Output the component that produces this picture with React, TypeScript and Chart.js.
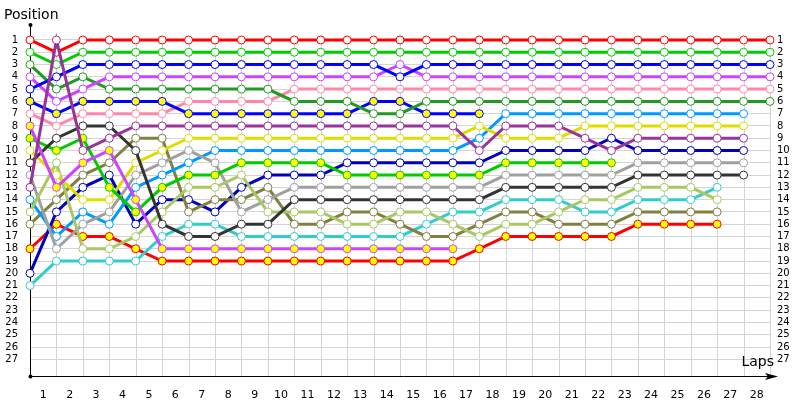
import React, { useEffect, useRef } from 'react';
import { Chart, registerables } from 'chart.js';

Chart.register(...registerables);

// laps 0 (start) .. 28, position ticks 1 .. 27
const laps = [0, 1, 2, 3, 4, 5, 6, 7, 8, 9, 10, 11, 12, 13, 14, 15, 16, 17, 18, 19, 20, 21, 22, 23, 24, 25, 26, 27, 28];
const lapLabels = ['1', '2', '3', '4', '5', '6', '7', '8', '9', '10', '11', '12', '13', '14', '15', '16', '17', '18', '19', '20', '21', '22', '23', '24', '25', '26', '27', '28'];
const positionTicks = [1, 2, 3, 4, 5, 6, 7, 8, 9, 10, 11, 12, 13, 14, 15, 16, 17, 18, 19, 20, 21, 22, 23, 24, 25, 26, 27];

// position of each driver at the end of each lap (index = lap)
const red = [1, 2, 1, 1, 1, 1, 1, 1, 1, 1, 1, 1, 1, 1, 1, 1, 1, 1, 1, 1, 1, 1, 1, 1, 1, 1, 1, 1, 1];
const green = [2, 3, 2, 2, 2, 2, 2, 2, 2, 2, 2, 2, 2, 2, 2, 2, 2, 2, 2, 2, 2, 2, 2, 2, 2, 2, 2, 2, 2];
const blue = [5, 4, 3, 3, 3, 3, 3, 3, 3, 3, 3, 3, 3, 3, 4, 3, 3, 3, 3, 3, 3, 3, 3, 3, 3, 3, 3, 3, 3];
const violet = [4, 6, 5, 4, 4, 4, 4, 4, 4, 4, 4, 4, 4, 4, 3, 4, 4, 4, 4, 4, 4, 4, 4, 4, 4, 4, 4, 4, 4];
const pink = [7, 8, 7, 7, 7, 7, 6, 6, 6, 6, 5, 5, 5, 5, 5, 5, 5, 5, 5, 5, 5, 5, 5, 5, 5, 5, 5, 5, 5];
const darkGreen = [3, 5, 4, 5, 5, 5, 5, 5, 5, 5, 6, 6, 6, 7, 7, 6, 6, 6, 6, 6, 6, 6, 6, 6, 6, 6, 6, 6, 6];
const blueYellow = [6, 7, 6, 6, 6, 6, 7, 7, 7, 7, 7, 7, 7, 6, 6, 7, 7, 7];
const purple = [13, 1, 10, 9, 8, 8, 8, 8, 8, 8, 8, 8, 8, 8, 8, 8, 8, 10, 8, 8, 8, 9, 10, 9, 9, 9, 9, 9];
const lightBlue = [14, 17, 15, 16, 13, 12, 11, 10, 10, 10, 10, 10, 10, 10, 10, 10, 10, 9, 7, 7, 7, 7, 7, 7, 7, 7, 7, 7];
const yellow = [10, 12, 14, 14, 11, 10, 9, 9, 9, 9, 9, 9, 9, 9, 9, 9, 9, 8, 9, 9, 9, 8, 8, 8, 8, 8, 8, 8];
const navy = [20, 15, 13, 12, 16, 14, 14, 15, 13, 12, 12, 12, 11, 11, 11, 11, 11, 11, 10, 10, 10, 10, 9, 10, 10, 10, 10, 10];
const greenYellow = [9, 10, 9, 13, 15, 13, 12, 12, 11, 11, 11, 11, 12, 12, 12, 12, 12, 12, 11, 11, 11, 11, 11];
const gray = [12, 18, 16, 15, 12, 11, 10, 11, 15, 14, 13, 13, 13, 13, 13, 13, 13, 13, 12, 12, 12, 12, 12, 11, 11, 11, 11, 11];
const black = [11, 9, 8, 8, 10, 16, 17, 17, 16, 16, 14, 14, 14, 14, 14, 14, 14, 14, 13, 13, 13, 13, 13, 12, 12, 12, 12, 12];
const cyan = [21, 19, 19, 19, 19, 17, 16, 16, 17, 17, 17, 17, 17, 17, 17, 16, 15, 15, 14, 14, 14, 15, 15, 14, 14, 14, 13];
const lightGreen = [15, 11, 18, 18, 17, 15, 13, 13, 12, 15, 15, 15, 16, 16, 15, 15, 16, 17, 16, 16, 15, 14, 14, 13, 13, 13, 14];
const olive = [16, 14, 12, 11, 9, 9, 15, 14, 14, 13, 16, 16, 15, 15, 16, 17, 17, 16, 15, 15, 16, 16, 16, 15, 15, 15, 15];
const violetYellow = [8, 13, 11, 10, 14, 18, 18, 18, 18, 18, 18, 18, 18, 18, 18, 18, 18];
const redYellow = [18, 16, 17, 17, 18, 19, 19, 19, 19, 19, 19, 19, 19, 19, 19, 19, 19, 18, 17, 17, 17, 17, 17, 16, 16, 16, 16];

const FONT = '"DejaVu Sans", Verdana, sans-serif';
const WHITE = '#ffffff';
const GOLD = '#ffff00';

// [name, positions, line colour, marker fill] - first entry is drawn on top
const drivers: [string, number[], string, string][] = [
  ['purple', purple, '#993399', WHITE],
  ['violetYellow', violetYellow, '#cc44ff', GOLD],
  ['black', black, '#333333', WHITE],
  ['greenYellow', greenYellow, '#00cc00', GOLD],
  ['yellow', yellow, '#dddd00', WHITE],
  ['lightGreen', lightGreen, '#a8c864', WHITE],
  ['gray', gray, '#a0a0a0', WHITE],
  ['lightBlue', lightBlue, '#0099ff', WHITE],
  ['olive', olive, '#808040', WHITE],
  ['navy', navy, '#0000bb', WHITE],
  ['cyan', cyan, '#33cccc', WHITE],
  ['redYellow', redYellow, '#ff0000', GOLD],
  ['red', red, '#ff0000', WHITE],
  ['green', green, '#00cc00', WHITE],
  ['blue', blue, '#0000ff', WHITE],
  ['violet', violet, '#cc44ff', WHITE],
  ['darkGreen', darkGreen, '#229922', WHITE],
  ['blueYellow', blueYellow, '#0000ff', GOLD],
  ['pink', pink, '#ff88aa', WHITE],
];

const decorPlugin = {
  id: 'decor',
  beforeDatasetsDraw(chart: any) {
    const { ctx, chartArea, scales } = chart;
    const x = scales.x;
    const y = scales.y;
    ctx.save();
    // vertical grid lines, from position 1 down to the axis
    ctx.strokeStyle = '#d4d4d4';
    ctx.lineWidth = 1;
    const top = y.getPixelForValue(1);
    laps.forEach((l) => {
      const px = Math.round(x.getPixelForValue(l)) + 0.5;
      ctx.beginPath();
      ctx.moveTo(px, top);
      ctx.lineTo(px, chartArea.bottom);
      ctx.stroke();
    });
    // axes
    const x0 = Math.round(x.getPixelForValue(0)) + 0.5;
    const yb = Math.round(chartArea.bottom) + 0.5;
    ctx.strokeStyle = '#000';
    ctx.fillStyle = '#000';
    ctx.beginPath();
    ctx.moveTo(x0, 25);
    ctx.lineTo(x0, yb);
    ctx.lineTo(chartArea.right + 6, yb);
    ctx.stroke();
    ctx.beginPath();
    ctx.moveTo(chartArea.right + 8, yb);
    ctx.lineTo(chartArea.right - 5, yb - 3.5);
    ctx.lineTo(chartArea.right - 2, yb);
    ctx.lineTo(chartArea.right - 5, yb + 3.5);
    ctx.closePath();
    ctx.fill();
    ctx.beginPath();
    ctx.arc(x0, 25, 2, 0, Math.PI * 2);
    ctx.fill();
    ctx.beginPath();
    ctx.arc(x0, yb, 2, 0, Math.PI * 2);
    ctx.fill();
    ctx.restore();
  },
  afterDraw(chart: any) {
    const { ctx, chartArea } = chart;
    ctx.save();
    ctx.fillStyle = '#000';
    ctx.font = `14px ${FONT}`;
    ctx.textBaseline = 'alphabetic';
    ctx.textAlign = 'left';
    ctx.fillText('Position', 4, 19);
    ctx.textAlign = 'right';
    ctx.fillText('Laps', chartArea.right + 4, chartArea.bottom - 10);
    ctx.restore();
  },
};

const LapChart: React.FC = () => {
  const canvasRef = useRef<HTMLCanvasElement>(null);
  const chartRef = useRef<Chart | null>(null);

  useEffect(() => {
    document.body.style.margin = '0';
    if (!canvasRef.current) return;
    if (chartRef.current) chartRef.current.destroy();

    const tickFont = { family: FONT, size: 10 };

    chartRef.current = new Chart(canvasRef.current, {
      type: 'line',
      data: {
        datasets: drivers.map(([name, positions, color, fill]) => ({
          label: name,
          data: positions.map((p, lap) => ({ x: lap, y: p })),
          borderColor: color,
          backgroundColor: fill,
          borderWidth: 3,
          pointRadius: 4,
          pointBorderWidth: 1,
          pointBorderColor: color,
          pointBackgroundColor: fill,
          tension: 0,
          clip: false,
        })),
      },
      options: {
        animation: false,
        responsive: false,
        layout: { padding: { top: 27.7, left: 0, right: 0, bottom: 0 } },
        plugins: {
          legend: { display: false },
          tooltip: { enabled: false },
        },
        scales: {
          x: {
            type: 'linear',
            min: 0,
            max: 28,
            position: 'bottom',
            afterFit: (s: any) => { s.height = 24; },
            afterBuildTicks: (s: any) => { s.ticks = laps.map((v) => ({ value: v })); },
            grid: { display: false },
            border: { display: false },
            ticks: {
              autoSkip: false,
              maxRotation: 0,
              labelOffset: 13.2,
              padding: 5,
              color: '#000',
              font: { family: FONT, size: 11 },
              callback: (v: any) => lapLabels[v] ?? '',
            },
          },
          y: {
            type: 'linear',
            min: 0,
            max: 28.36,
            reverse: true,
            position: 'left',
            afterFit: (s: any) => { s.width = 30; },
            afterBuildTicks: (s: any) => { s.ticks = positionTicks.map((v) => ({ value: v })); },
            grid: { color: '#d4d4d4', lineWidth: 1, drawTicks: false },
            border: { display: false },
            ticks: { autoSkip: false, padding: 12, color: '#000', font: tickFont },
          },
          y2: {
            type: 'linear',
            min: 0,
            max: 28.36,
            reverse: true,
            position: 'right',
            afterFit: (s: any) => { s.width = 30; },
            afterBuildTicks: (s: any) => { s.ticks = positionTicks.map((v) => ({ value: v })); },
            grid: { display: false, drawTicks: false },
            border: { display: false },
            ticks: { autoSkip: false, padding: 7, color: '#000', font: tickFont },
          },
        },
      },
      plugins: [decorPlugin],
    } as any);

    return () => {
      if (chartRef.current) {
        chartRef.current.destroy();
        chartRef.current = null;
      }
    };
  }, []);

  return (
    <div style={{ width: 800, height: 400, background: '#fff' }}>
      <canvas ref={canvasRef} width={800} height={400}></canvas>
    </div>
  );
};

export default function App() {
  return <LapChart />;
}
